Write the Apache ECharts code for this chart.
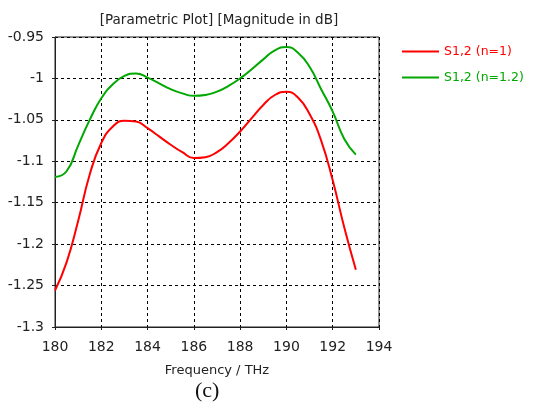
<!DOCTYPE html>
<html>
<head>
    <meta charset="utf-8">
    <title>ECharts</title>
    <script src="https://cdn.jsdelivr.net/npm/echarts@6/dist/echarts.min.js"></script>
</head>
<body style="margin:0;background:#fff">
    <div id="main" style="width: 535px;height:412px;"></div>
    <script type="text/javascript">
        // frequency samples (THz) and S1,2 magnitude (dB)
        var freq = [180, 180.5, 181, 181.5, 182, 182.5, 183, 183.5, 184, 184.5, 185, 185.5, 186, 186.5, 187, 187.5, 188, 188.5, 189, 189.5, 190, 190.5, 191, 191.5, 192, 192.5, 193];
        var s12N1 = [-1.256, -1.222, -1.172, -1.116, -1.078, -1.058, -1.051, -1.052, -1.060, -1.070, -1.080, -1.089, -1.096, -1.095, -1.089, -1.078, -1.064, -1.048, -1.032, -1.020, -1.016, -1.023, -1.043, -1.075, -1.123, -1.180, -1.231];
        var s12N12 = [-1.119, -1.112, -1.081, -1.050, -1.024, -1.007, -0.997, -0.994, -0.999, -1.006, -1.013, -1.018, -1.021, -1.020, -1.016, -1.009, -1.000, -0.989, -0.977, -0.966, -0.962, -0.969, -0.986, -1.013, -1.040, -1.073, -1.092];
        var seriesNames = ['S1,2 (n=1)', 'S1,2 (n=1.2)'];
        var seriesColors = ['#ff0000', '#00a800'];

        function pairs(xs, ys) {
            return xs.map(function (x, i) { return [x, ys[i]]; });
        }

        var myChart = echarts.init(document.getElementById('main'));
        var font = 'DejaVu Sans';

        option = {
            animation: false,
            title: {
                text: '[Parametric Plot] [Magnitude in dB]',
                left: 214,
                textAlign: 'center',
                top: 8,
                textStyle: { fontFamily: font, fontSize: 13.5, fontWeight: 'normal', color: '#222' }
            },
            legend: {
                orient: 'vertical',
                left: 397,
                top: 40,
                itemWidth: 37,
                itemHeight: 2,
                itemGap: 13,
                icon: 'rect',
                data: seriesNames.map(function (n, i) {
                    return { name: n, textStyle: { color: seriesColors[i] } };
                }),
                textStyle: { fontFamily: font, fontSize: 12.5 }
            },
            grid: {
                left: 55, right: 156, top: 37, bottom: 85,
                show: true, borderColor: '#222', borderWidth: 1
            },
            xAxis: {
                type: 'value',
                min: 180, max: 194, interval: 2,
                name: 'Frequency / THz',
                nameLocation: 'middle',
                nameGap: 37,
                nameTextStyle: { fontFamily: font, fontSize: 13, color: '#222' },
                axisLine: { lineStyle: { color: '#222' } },
                axisTick: { length: 3, lineStyle: { color: '#222' } },
                axisLabel: { fontFamily: font, fontSize: 14, color: '#222', margin: 13 },
                splitLine: { show: true, lineStyle: { color: '#000', type: [3, 3] } }
            },
            yAxis: {
                type: 'value',
                min: -1.3, max: -0.95, interval: 0.05,
                axisLine: { show: true, lineStyle: { color: '#222' } },
                axisTick: { show: true, length: 3, lineStyle: { color: '#222' } },
                axisLabel: { fontFamily: font, fontSize: 14, color: '#222', margin: 11 },
                splitLine: { show: true, lineStyle: { color: '#000', type: [3, 3] } }
            },
            graphic: [{
                type: 'text',
                left: 195,
                top: 380,
                style: { text: '(c)', font: '22px "Liberation Serif"', fill: '#111' }
            }],
            series: [
                {
                    name: seriesNames[0],
                    type: 'line',
                    smooth: 0.5,
                    showSymbol: false,
                    data: pairs(freq, s12N1),
                    lineStyle: { color: seriesColors[0], width: 2 },
                    itemStyle: { color: seriesColors[0] }
                },
                {
                    name: seriesNames[1],
                    type: 'line',
                    smooth: 0.5,
                    showSymbol: false,
                    data: pairs(freq, s12N12),
                    lineStyle: { color: seriesColors[1], width: 2 },
                    itemStyle: { color: seriesColors[1] }
                }
            ]
        };

        myChart.setOption(option);
    </script>
</body>
</html>
